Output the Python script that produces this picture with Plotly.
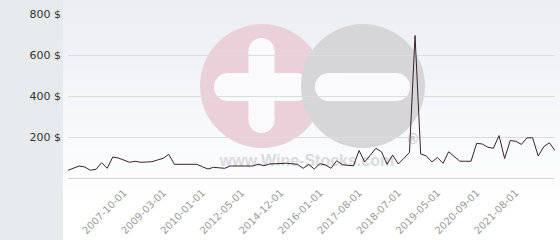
import plotly.graph_objects as go

# ---- data ----
price_usd = [
    37.6, 48, 58.5, 53.7, 37.6, 42.4, 74.6, 47.3, 102.4, 97.6,
    87, 76.6, 81.5, 76.6, 78, 79.5, 88, 96, 115.6, 66.8,
    66.8, 66.8, 66.8, 66.8, 55, 43.9, 52, 49.5, 47.3, 58.5,
    58.5, 58.5, 58.5, 58.5, 67, 60, 68.3, 69.5, 70.8, 72,
    69.4, 66.8, 47.3, 65.9, 43.9, 69.8, 63.4, 47.3, 84.4, 65,
    62, 59.5, 134, 78, 111, 145, 128, 67, 112, 68.3,
    96, 125, 695, 117, 108, 78, 100, 71.7, 128, 105,
    82, 81.7, 81.5, 169, 166, 150, 145, 207, 95, 183,
    179, 164, 196, 196, 107, 153, 172, 133,
]
tick_index = [10, 17, 24, 31, 38, 45, 52, 59, 66, 73, 80]
tick_labels = ["2007-10-01", "2009-03-01", "2010-01-01", "2012-05-01", "2014-12-01",
               "2016-01-01", "2017-08-01", "2018-07-01", "2019-05-01", "2020-09-01",
               "2021-08-01"]
y_tick_values = [0, 200, 400, 600, 800]
y_tick_labels = ["", "200 $", "400 $", "600 $", "800 $"]

# ---- layout geometry (pixels) ----
W, H = 560, 240
L, R, T, B = 68, 5, 14, 62
PW, PH = W - L - R, H - T - B
NPTS = len(price_usd)


def px(x):
    return (x - L) / PW


def py(y):
    return (H - B - y) / PH


shapes = []
# background gradient bands (right part)
nb = 24
for k in range(nb):
    y0 = k * H / nb
    y1 = (k + 1) * H / nb
    t = min(1.0, (y0 + y1) / 2 / 200)
    c = [int(236 + (255 - 236) * t), int(238 + (255 - 238) * t), int(243 + (255 - 243) * t)]
    shapes.append(dict(type="rect", xref="paper", yref="paper", layer="below",
                       x0=px(63), x1=px(W + 2), y0=py(y1 + 0.5), y1=py(y0 - 0.5),
                       line=dict(width=0), fillcolor="rgb(%d,%d,%d)" % tuple(c)))
# left grey panel
shapes.append(dict(type="rect", xref="paper", yref="paper", layer="below",
                   x0=px(-2), x1=px(63), y0=py(H + 2), y1=py(-2),
                   line=dict(width=0), fillcolor="#e8ebee"))


def circ(cx, cy, r, color):
    return dict(type="circle", xref="paper", yref="paper", layer="below",
                x0=px(cx - r), x1=px(cx + r), y0=py(cy + r), y1=py(cy - r),
                line=dict(width=0), fillcolor=color)


def rect(x0, y0, x1, y1, color):
    return dict(type="rect", xref="paper", yref="paper", layer="below",
                x0=px(x0), x1=px(x1), y0=py(y1), y1=py(y0),
                line=dict(width=0), fillcolor=color)


def pill_h(x0, x1, yc, h, color):
    r = h / 2
    return [rect(x0 + r, yc - r, x1 - r, yc + r, color),
            circ(x0 + r, yc, r, color), circ(x1 - r, yc, r, color)]


def pill_v(xc, y0, y1, w, color):
    r = w / 2
    return [rect(xc - r, y0 + r, xc + r, y1 - r, color),
            circ(xc, y0 + r, r, color), circ(xc, y1 - r, r, color)]


pink = "rgb(234,208,216)"
grey = "rgb(214,214,217)"
bar = "rgb(250,250,252)"
shapes.append(circ(262, 86, 62, pink))
shapes += pill_h(214, 310, 87, 28, bar)
shapes += pill_v(261.5, 38, 133, 26, bar)
shapes.append(circ(363, 86, 62, grey))
shapes += pill_h(315, 410, 87, 28, bar)

fig = go.Figure()

# watermark text (below the data line)
fig.add_trace(go.Scatter(
    x=[px(307) * (NPTS - 1), px(413) * (NPTS - 1)],
    y=[py(162) * 800, py(140) * 800],
    mode="text", text=["www.Wine-Stocks.com", "®"],
    textfont=dict(family="Arial", size=[16, 14], color=["rgb(218,218,221)", "rgb(205,205,208)"],
                  weight="bold"),
    hoverinfo="skip", showlegend=False))

fig.add_trace(go.Scatter(
    x=list(range(NPTS)), y=price_usd, mode="lines",
    line=dict(color="#3b2030", width=1), showlegend=False))

fig.update_layout(
    width=W, height=H,
    margin=dict(l=L, r=R, t=T, b=B, pad=0),
    paper_bgcolor="#ffffff", plot_bgcolor="rgba(0,0,0,0)",
    shapes=shapes,
    font=dict(family="DejaVu Sans"),
    xaxis=dict(range=[0, NPTS - 1], tickmode="array", tickvals=tick_index,
               ticktext=tick_labels, tickangle=-45, showgrid=False, zeroline=False,
               showline=False, ticks="", ticklabelstandoff=6,
               tickfont=dict(size=10, color="#9a9a9a")),
    yaxis=dict(range=[0, 800], tickmode="array", tickvals=y_tick_values,
               ticktext=y_tick_labels, showgrid=True, gridcolor="#dcdcdf", gridwidth=1,
               zeroline=True, zerolinecolor="#d6d6d9", zerolinewidth=1,
               ticks="", ticklabelstandoff=6, tickfont=dict(size=11, color="#333333")),
)

fig.write_html("out.html")
